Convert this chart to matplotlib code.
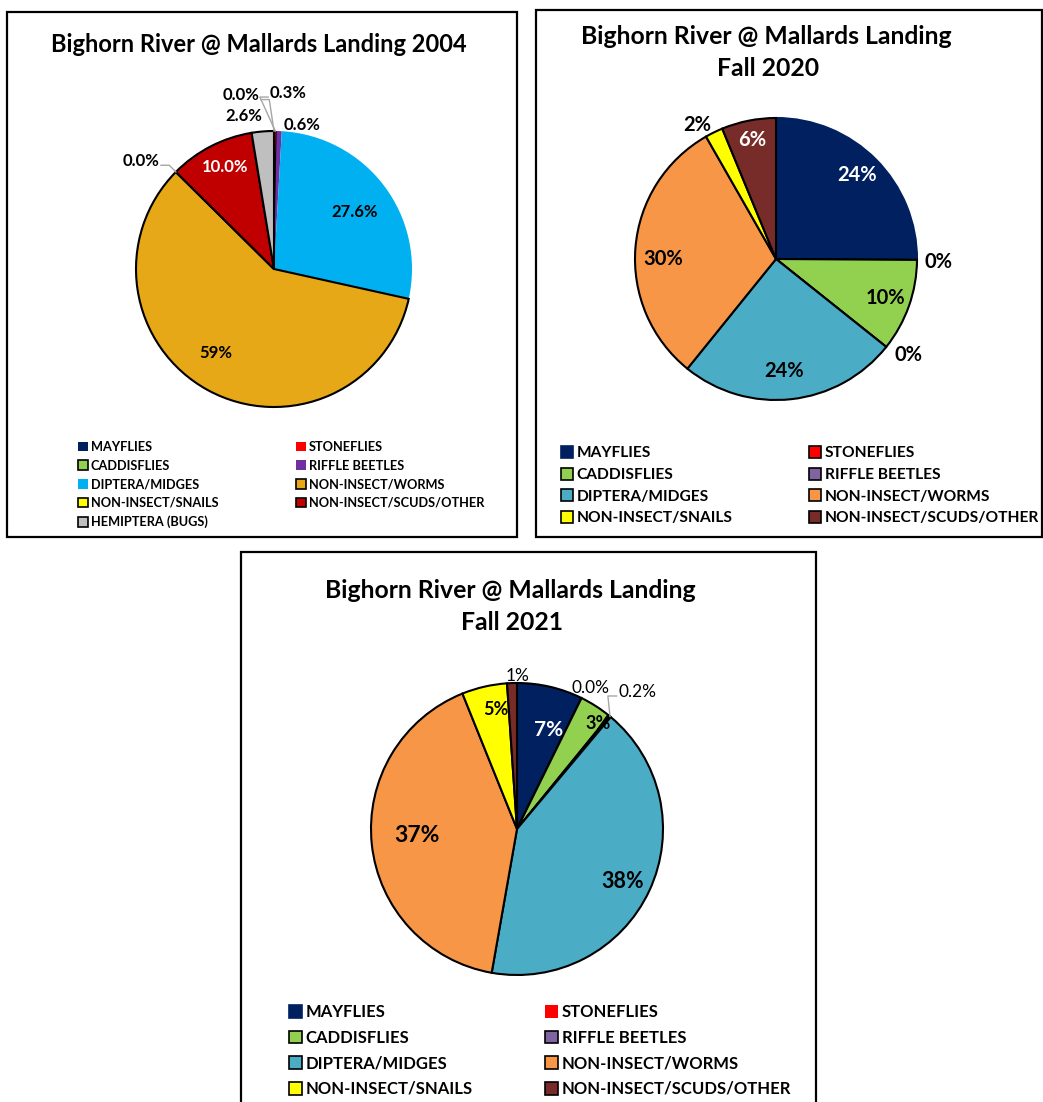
import numpy as np
import matplotlib
matplotlib.use('agg')
from matplotlib import pyplot as plt
from matplotlib.patches import Patch, Rectangle
from matplotlib.lines import Line2D

plt.rcParams['font.family'] = ['Lato', 'DejaVu Sans']

W, H = 1043, 1102

# ---- data ----
categories_2004 = ["MAYFLIES", "STONEFLIES", "CADDISFLIES", "RIFFLE BEETLES",
                   "DIPTERA/MIDGES", "NON-INSECT/WORMS", "NON-INSECT/SNAILS",
                   "NON-INSECT/SCUDS/OTHER", "HEMIPTERA (BUGS)"]
values_2004 = [0.0, 0.3, 0.0, 0.6, 27.6, 59.0, 0.0, 10.0, 2.6]
labels_2004 = ["0.0%", "0.3%", "", "0.6%", "27.6%", "59%", "0.0%", "10.0%", "2.6%"]

categories_fall = categories_2004[:8]
values_2020 = [24.6, 0.0, 10.4, 0.0, 24.6, 30.3, 2.0, 6.1]
labels_2020 = ["24%", "0%", "10%", "0%", "24%", "30%", "2%", "6%"]
values_2021 = [6.7, 0.0, 3.3, 0.2, 38.3, 37.8, 4.6, 1.0]
labels_2021 = ["7%", "0.0%", "3%", "0.2%", "38%", "37%", "5%", "1%"]

# ---- styles ----
colors_2004 = ["#002060", "#FF0000", "#92D050", "#7030A0", "#00B0F0",
               "#E6A817", "#FFFF00", "#C00000", "#BFBFBF"]
edges_2004 = ["none", "none", "black", "none", "none", "black", "black", "black", "black"]
colors_fall = ["#002060", "#FF0000", "#92D050", "#8064A2", "#4BACC6",
               "#F79646", "#FFFF00", "#772C2A"]
edges_2020 = ["#002060"] + ["black"] * 7
legend_edges_2021 = ["#002060", "none"] + ["black"] * 6

fig = plt.figure(figsize=(W / 100, H / 100), dpi=100)


def fx(x):
    return x / W


def fy(y):
    return 1 - y / H


def draw_chart(values, labels, categories, colors, wedge_edges, legend_edges,
               box, titles, center, radius, lab_r, lab_off, lab_style, leaders,
               leg_x, leg_y, leg_size, leg_space, edge_lw):
    x0, y0, x1, y1 = box
    fig.patches.append(Rectangle((fx(x0), fy(y1)), fx(x1 - x0), (y1 - y0) / H,
                                 transform=fig.transFigure, fill=False,
                                 edgecolor="black", lw=1.6))
    for txt, tx, ty, ts in titles:
        fig.text(fx(tx), fy(ty), txt, ha="center", va="center",
                 fontsize=ts, fontweight="bold")

    cx, cy = center
    ax = fig.add_axes([fx(cx - radius), fy(cy + radius), 2 * radius / W, 2 * radius / H])
    wedges, _ = ax.pie(values, colors=colors, startangle=90, counterclock=False,
                       wedgeprops=dict(linewidth=edge_lw))
    for w, ec in zip(wedges, wedge_edges):
        w.set_edgecolor(ec)
    ax.set_xlim(-1, 1)
    ax.set_ylim(-1, 1)
    ax.set_aspect("equal")
    ax.axis("off")

    renderer = fig.canvas.get_renderer()
    for w, txt, r, off, st, lead in zip(wedges, labels, lab_r, lab_off, lab_style, leaders):
        if not txt:
            continue
        mid = np.deg2rad((w.theta1 + w.theta2) / 2)
        ang = mid - np.deg2rad(off)
        lx, ly = r * np.cos(ang), r * np.sin(ang)
        size, weight, color = st
        t = ax.text(lx, ly, txt, ha="center", va="center", fontsize=size,
                    fontweight=weight, color=color, clip_on=False)
        if lead:
            ex, ey = np.cos(mid), np.sin(mid)
            bb = t.get_window_extent(renderer).transformed(ax.transData.inverted())
            side = 1 if ex > lx else -1
            sx = bb.x1 + 0.01 if side > 0 else bb.x0 - 0.01
            sy = ly - 0.03
            ax.add_line(Line2D([sx, sx + side * 0.06, ex], [sy, sy, ey],
                               color="#A6A6A6", lw=1, clip_on=False))

    handles = [Patch(facecolor=c, edgecolor=e, lw=1.2) for c, e in zip(colors, legend_edges)]
    for col in range(2):
        idx = list(range(col, len(categories), 2))
        fig.legend([handles[i] for i in idx], [categories[i] for i in idx],
                   loc="upper left", bbox_to_anchor=(fx(leg_x[col]), fy(leg_y)),
                   frameon=False, borderpad=0, borderaxespad=0,
                   handlelength=0.8, handleheight=0.8, handletextpad=0.2,
                   labelspacing=leg_space,
                   prop={"weight": "bold", "size": leg_size})


B, N = "bold", "normal"

# 2004
draw_chart(values_2004, labels_2004, categories_2004, colors_2004, edges_2004, edges_2004,
           box=(7, 12, 517, 537),
           titles=[("Bighorn River @ Mallards Landing 2004", 259, 44, 17)],
           center=(274, 269), radius=138,
           lab_r=[1.28, 1.28, 0, 1.06, 0.72, 0.74, 1.24, 0.82, 1.13],
           lab_off=[-10.7, 4.0, 0, 8.9, 1.8, 6.1, -5.6, 1.6, -6.4],
           lab_style=[(12, B, "black")] * 7 + [(12, B, "white"), (12, B, "black")],
           leaders=[True, True, False, False, False, False, True, False, False],
           leg_x=(78, 296), leg_y=441, leg_size=9.2, leg_space=0.52, edge_lw=1.5)

# Fall 2020
draw_chart(values_2020, labels_2020, categories_fall, colors_fall, edges_2020, edges_2020,
           box=(536, 10, 1042, 537),
           titles=[("Bighorn River @ Mallards Landing", 766, 37, 17.8),
                   ("Fall 2020", 768, 68, 17.8)],
           center=(776, 259), radius=141,
           lab_r=[0.83, 1.15, 0.82, 1.16, 0.80, 0.80, 1.10, 0.86],
           lab_off=[-1.2, 0.7, 0, -2.6, 2, -4.7, -4.5, 0],
           lab_style=[(14.5, B, "white")] + [(14.5, B, "black")] * 6 + [(14.5, B, "white")],
           leaders=[False] * 8,
           leg_x=(561, 809), leg_y=446, leg_size=11.2, leg_space=0.47, edge_lw=1.5)

# Fall 2021
draw_chart(values_2021, labels_2021, categories_fall, colors_fall, ["black"] * 8, legend_edges_2021,
           box=(241, 552, 816, 1115),
           titles=[("Bighorn River @ Mallards Landing", 510, 590, 17.8),
                   ("Fall 2021", 512, 622, 17.8)],
           center=(517, 829), radius=146,
           lab_r=[0.71, 1.09, 0.91, 1.25, 0.81, 0.69, 0.83, 1.05],
           lab_off=[4.8, 1.2, 4.9, 1.6, 1.6, 2.0, 3.0, 2.0],
           lab_style=[(15, B, "white"), (12.4, N, "black"), (13, B, "black"), (12.4, N, "black"),
                      (15.5, B, "black"), (16.5, B, "black"), (13, B, "black"), (12.4, N, "black")],
           leaders=[False, False, False, True, False, False, False, False],
           leg_x=(289, 545), leg_y=1004, leg_size=12, leg_space=0.58, edge_lw=1.5)

fig.savefig("out.png", dpi=100)
